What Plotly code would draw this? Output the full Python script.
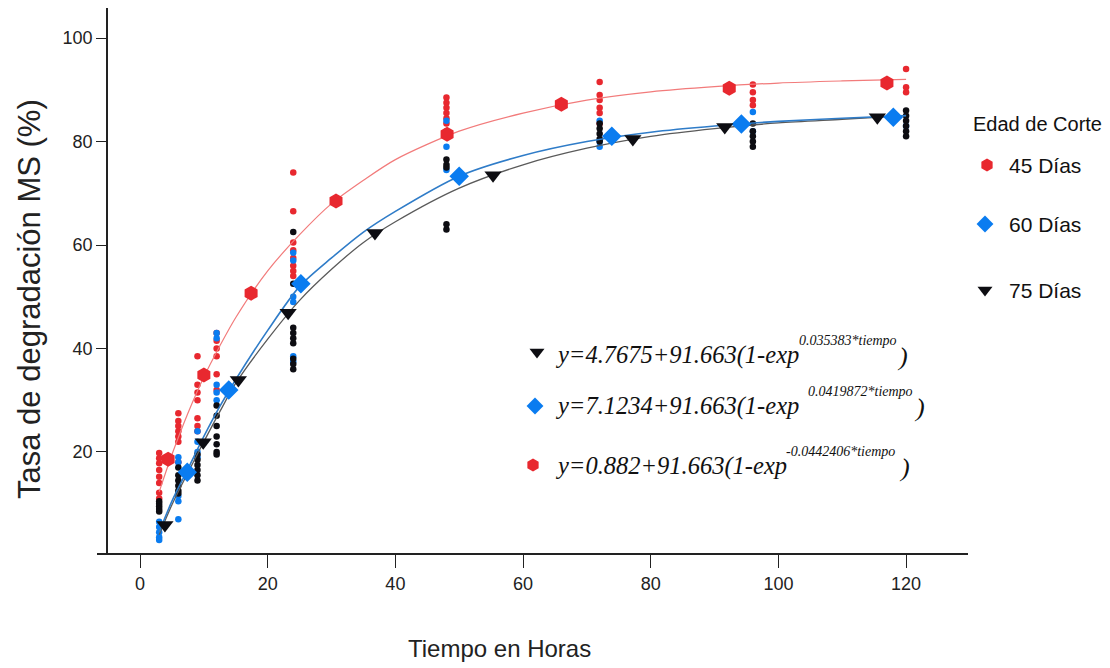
import plotly.graph_objects as go

# ---------------- data ----------------
ages = ["45 Días", "60 Días", "75 Días"]

# observed points (time in hours, degradation %)
t45 = [3]*8 + [6]*7 + [9]*7 + [12]*6 + [24]*8 + [48]*7 + [72]*6 + [96]*4 + [120]*3
y45 = [19.8, 18.8, 17.8, 16.5, 15.2, 14.0, 12.1, 11.0,
       27.5, 26, 25, 24, 23, 22, 18,
       38.5, 33, 31.5, 30, 26.5, 25, 24,
       43, 41.5, 40, 38.5, 35, 32,
       74, 66.5, 60.5, 59, 57.5, 56, 55, 54,
       88.5, 87.5, 86.5, 85.5, 84.5, 83.5, 82,
       91.5, 89, 88, 86.5, 85.5, 83.5,
       91, 89.5, 88, 87,
       94, 90.5, 89.5]

t60 = [3]*5 + [6]*5 + [9]*4 + [12]*5 + [24]*6 + [48]*3 + [72]*3 + [96]*2 + [120]*1
y60 = [6.5, 5.5, 4.5, 3.5, 3.0,
       19, 18, 11.5, 10.5, 7,
       24, 22, 20, 19,
       43, 42, 33, 31.5, 30,
       58.5, 57, 50, 49, 38.5, 37.5,
       84, 79, 74.5,
       84, 80, 79,
       85.7, 82,
       83]

t75 = [3]*5 + [6]*6 + [9]*6 + [12]*7 + [24]*9 + [48]*5 + [72]*5 + [96]*5 + [120]*6
y75 = [10.5, 10, 9.5, 9, 8.5,
       17, 15.5, 14.5, 13.5, 12.5, 12,
       19.5, 18.5, 17.5, 16.5, 15.5, 14.5,
       29, 27, 25, 23, 21.5, 20, 19.5,
       62.5, 52.5, 44, 43, 42, 41, 38, 37, 36,
       76.5, 75.5, 75, 64, 63,
       83.5, 82.5, 81.5, 80.5, 80,
       83.5, 82, 81, 80, 79,
       86, 85, 84, 83, 82, 81]

# fitted curves
curve_x = [3, 5, 7.5, 10, 12.5, 15, 20, 25, 30, 35, 40, 50, 60, 70, 80, 90, 100, 110, 120]
curve45 = [12.3, 19.5, 27.5, 34.5, 40.5, 46, 55, 62, 68, 72.5, 76.5, 82, 85.5, 88, 89.6, 90.6, 91.3, 91.7, 92]
curve60 = [4.5, 10.5, 16.7, 23, 28.8, 34, 43.5, 52, 57.5, 62.5, 66.5, 73.3, 77.3, 80, 81.8, 83, 83.9, 84.5, 85]
curve75 = [4, 9.8, 16, 22, 27.8, 33.3, 41.8, 49.3, 55.3, 60.5, 64.5, 71, 75.5, 78.7, 81, 82.5, 83.6, 84.3, 85]

# large symbols drawn along each fitted line
m45_x = [4.4, 10.0, 17.4, 30.7, 48.1, 66.0, 92.3, 117.0]
m45_y = [18.6, 34.9, 50.7, 68.5, 81.4, 87.2, 90.3, 91.3]
m60_x = [7.4, 13.9, 25.2, 50.0, 73.9, 94.2, 118.0]
m60_y = [16.1, 32.0, 52.5, 73.3, 81.0, 83.4, 84.7]
m75_x = [3.9, 9.9, 15.4, 23.2, 36.8, 55.3, 77.2, 91.6, 115.5]
m75_y = [5.9, 21.9, 33.9, 46.9, 62.3, 73.5, 80.5, 82.8, 84.7]

x_ticks = [0, 20, 40, 60, 80, 100, 120]
y_ticks = [20, 40, 60, 80, 100]

equations = [
    ("y=4.7675+91.663(1-exp", "0.035383*tiempo"),
    ("y=7.1234+91.663(1-exp", "0.0419872*tiempo"),
    ("y=0.882+91.663(1-exp", "-0.0442406*tiempo"),
]

# ---------------- styling ----------------
RED = "#e8282f"
BLUE = "#0a7cf0"
BLACK = "#0d0d12"
SANS = "Liberation Sans, Arial, sans-serif"
SERIF = "Liberation Serif, Times New Roman, serif"

OFF = 8                      # page body margin
W, H = 1110 - OFF, 668 - OFF


def PX(v):
    return v - OFF


def PY(v):
    return v - OFF


PL, PR, PT, PB = PX(97), PX(968), 0, PY(553)  # plot area in page pixels

fig = go.Figure()

# small observed points
for tt, yy, col in [(t45, y45, RED), (t60, y60, BLUE), (t75, y75, BLACK)]:
    fig.add_trace(go.Scatter(x=tt, y=yy, mode="markers",
                             marker=dict(color=col, size=6.5, symbol="circle"),
                             showlegend=False, hoverinfo="skip"))

# fitted lines
for cy, col, wd in [(curve75, "#5a5a5a", 1.3), (curve60, "#2f7cc8", 1.6), (curve45, "#f27b7b", 1.2)]:
    fig.add_trace(go.Scatter(x=curve_x, y=cy, mode="lines",
                             line=dict(color=col, width=wd, shape="spline", smoothing=0.8),
                             showlegend=False, hoverinfo="skip"))

# large symbols
fig.add_trace(go.Scatter(x=m45_x, y=m45_y, mode="markers",
                         marker=dict(color=RED, size=15, symbol="hexagon"), showlegend=False))
fig.add_trace(go.Scatter(x=m60_x, y=m60_y, mode="markers",
                         marker=dict(color=BLUE, size=15, symbol="diamond"), showlegend=False))
fig.add_trace(go.Scatter(x=m75_x, y=m75_y, mode="markers",
                         marker=dict(color=BLACK, size=15, symbol="triangle-down"), showlegend=False))

# ---- legend + equation symbols on a full-page pixel overlay ----
sym_px_x = [PX(v) for v in [987, 985, 985, 537, 535, 533]]
sym_px_y = [PY(v) for v in [165, 224, 290, 352, 406, 465]]
sym_cols = [RED, BLUE, BLACK, BLACK, BLUE, RED]
sym_kind = ["hexagon", "diamond", "triangle-down", "triangle-down", "diamond", "hexagon"]
fig.add_trace(go.Scatter(x=sym_px_x, y=sym_px_y, xaxis="x2", yaxis="y2", mode="markers",
                         marker=dict(color=sym_cols, size=13, symbol=sym_kind),
                         cliponaxis=False, showlegend=False, hoverinfo="skip"))

ann = []
# legend title and entries
ann.append(dict(x=PX(971), y=PY(124), text="Edad de Corte", xanchor="left", yanchor="middle",
                font=dict(family=SANS, size=20, color="#111")))
for lab, ly in zip(ages, [165, 224, 290]):
    ann.append(dict(x=PX(1007), y=PY(ly), text=lab, xanchor="left", yanchor="middle",
                    font=dict(family=SANS, size=21, color="#111")))

# equations
eq_y = [355, 406, 466]
eq_sup_x = [797, 806, 784]
eq_close_x = [895, 912, 897]
for (main, sup), ey, sx, cx in zip(equations, eq_y, eq_sup_x, eq_close_x):
    ann.append(dict(x=PX(553), y=PY(ey), text="<i>" + main + "</i>", xanchor="left", yanchor="middle",
                    font=dict(family=SERIF, size=24.5, color="#111")))
    ann.append(dict(x=PX(sx), y=PY(ey - 15), text="<i>" + sup + "</i>", xanchor="left", yanchor="middle",
                    font=dict(family=SERIF, size=14, color="#111")))
    ann.append(dict(x=PX(cx), y=PY(ey + 1), text="<i>)</i>", xanchor="left", yanchor="middle",
                    font=dict(family=SERIF, size=26, color="#111")))

# axis titles
ann.append(dict(x=PX(29), y=PY(299), text="Tasa de degradación MS (%)", textangle=-90,
                xanchor="center", yanchor="middle", font=dict(family=SANS, size=31, color="#222")))
ann.append(dict(x=PX(499), y=PY(648), text="Tiempo en Horas", xanchor="center", yanchor="middle",
                font=dict(family=SANS, size=24, color="#222")))

for a in ann:
    a.update(xref="x2", yref="y2", showarrow=False)

fig.update_layout(
    width=W, height=H,
    margin=dict(l=0, r=0, t=0, b=0, pad=0),
    paper_bgcolor="white", plot_bgcolor="rgba(0,0,0,0)",
    annotations=ann,
    xaxis=dict(domain=[PL / W, PR / W], range=[-6.74, 129.7],
               tickvals=x_ticks, ticktext=[str(v) for v in x_ticks],
               showgrid=False, zeroline=False, showline=True, linecolor="#222", linewidth=1.8,
               ticks="outside", ticklen=13, tickwidth=1.3, tickcolor="#222",
               tickfont=dict(family=SANS, size=18, color="#222")),
    yaxis=dict(domain=[(H - PB) / H, (H - PT) / H], range=[0.48, 105.8],
               tickvals=y_ticks, ticktext=[str(v) for v in y_ticks],
               anchor="free", position=PX(107) / W,
               showgrid=False, zeroline=False, showline=True, linecolor="#222", linewidth=1.6,
               ticks="outside", ticklen=10, tickwidth=1.3, tickcolor="#222",
               tickfont=dict(family=SANS, size=18, color="#222")),
    xaxis2=dict(domain=[0, 1], range=[0, W], anchor="y2", visible=False, fixedrange=True),
    yaxis2=dict(domain=[0, 1], range=[H, 0], anchor="x2", visible=False, fixedrange=True),
    showlegend=False,
)

fig.write_html("out.html")
